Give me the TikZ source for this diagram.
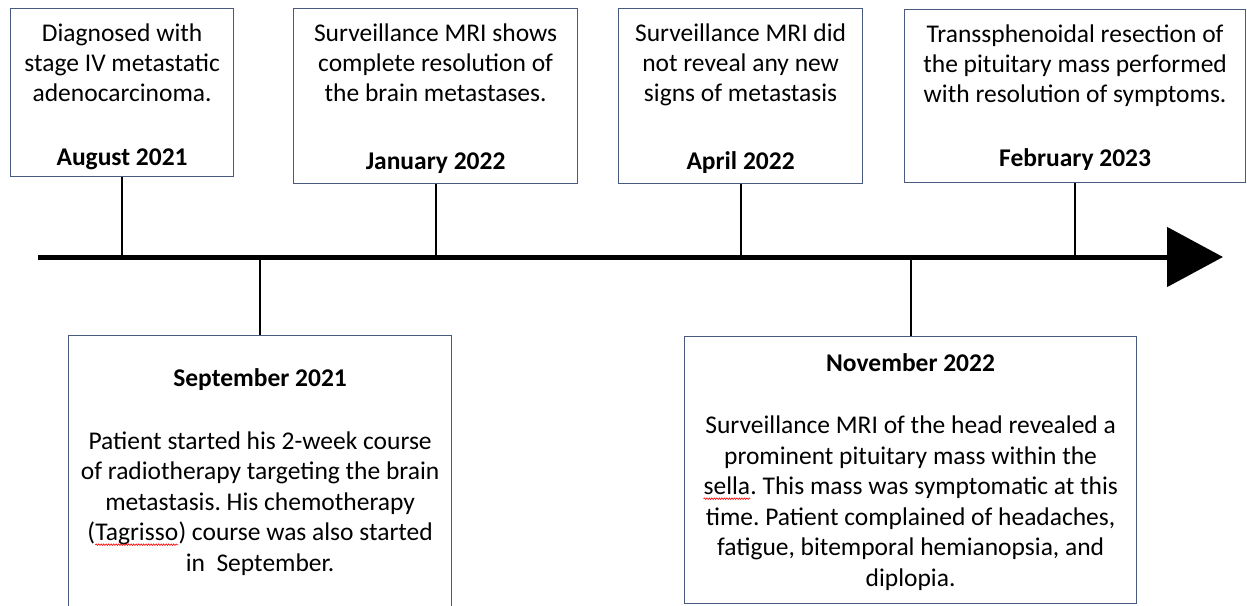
\documentclass[tikz,border=0pt]{standalone}
\usepackage{fontspec}
\setmainfont{Carlito}
\usetikzlibrary{arrows.meta,decorations.pathmorphing}
\definecolor{boxblue}{RGB}{72,90,125}
\newcommand\redwave[1]{\tikz[baseline=(w.base)]{\node[inner sep=0pt,outer sep=0pt] (w) {#1};
  \draw[red, line width=0.6pt, decorate, decoration={snake, segment length=2.5pt, amplitude=0.8pt}]
    ([yshift=-4pt]w.base west) -- ([yshift=-4pt]w.base east);}}
\frenchspacing
\begin{document}
\begin{tikzpicture}[x=1pt,y=-1pt,
  box/.style={draw=boxblue, line width=1.2pt, rectangle, inner sep=0pt, anchor=north west},
  txt/.style={align=center, inner sep=0pt, anchor=north, text=black, font=\fontsize{25.5}{30}\selectfont},
  txtb/.style={txt, font=\fontsize{25.5}{30.5}\selectfont},
  stem/.style={draw=black, line width=2pt},
  axis/.style={draw=black, line width=5pt, -{Triangle[length=56pt,width=59pt]}}]
\useasboundingbox (0,0) rectangle (1247,605);
% timeline ends
\coordinate (a0) at (38,257);
\coordinate (a1) at (1223,257);
% boxes
\node[box, minimum width=223pt, minimum height=168pt] (b1) at (10,8) {};
\node[box, minimum width=284pt, minimum height=175pt] (b2) at (293,8) {};
\node[box, minimum width=244pt, minimum height=175pt] (b3) at (618,8) {};
\node[box, minimum width=341pt, minimum height=173pt] (b4) at (904,9) {};
\node[box, minimum width=383pt, minimum height=280pt] (b5) at (68,335) {};
\node[box, minimum width=452pt, minimum height=267pt] (b6) at (684,336) {};
% texts
\node[txt] (t1) at ([yshift=-13pt]b1.north) {\rule{0pt}{20.5pt}Diagnosed with\\stage IV metastatic\\adenocarcinoma.\\[34pt]\textbf{August 2021}};
\node[txt] (t2) at ([yshift=-12.5pt]b2.north) {\rule{0pt}{20.5pt}Surveillance MRI shows\\complete resolution of\\the brain metastases.\\[38pt]\textbf{January 2022}};
\node[txt] (t3) at ([yshift=-12.5pt]b3.north) {\rule{0pt}{20.5pt}Surveillance MRI did\\not reveal any new\\signs of metastasis\\[38pt]\textbf{April 2022}};
\node[txt] (t4) at ([yshift=-12.5pt]b4.north) {\rule{0pt}{20.5pt}Transsphenoidal resection of\\the pituitary mass performed\\with resolution of symptoms.\\[34pt]\textbf{February 2023}};
\node[txtb] (t5) at ([yshift=-31pt]b5.north) {\rule{0pt}{20.5pt}\textbf{September 2021}\\[32pt]Patient started his 2-week course\\of radiotherapy targeting the brain\\metastasis. His chemotherapy\\(\redwave{Tagrisso}) course was also started\\in~ September.};
\node[txtb] (t6) at ([yshift=-15pt]b6.north) {\rule{0pt}{20.5pt}\textbf{November 2022}\\[31.5pt]Surveillance MRI of the head revealed a\\prominent pituitary mass within the\\\redwave{sella}. This mass was symptomatic at this\\time. Patient complained of headaches,\\fatigue, bitemporal hemianopsia, and\\diplopia.};
% stems
\draw[stem] (b1.south) -- (b1.south |- a0);
\draw[stem] (b2.south) -- (b2.south |- a0);
\draw[stem] (b3.south) -- (b3.south |- a0);
\draw[stem] (b4.south) -- (b4.south |- a0);
\draw[stem] (b5.north) -- (b5.north |- a0);
\draw[stem] (b6.north) -- (b6.north |- a0);
% timeline
\draw[axis] (a0) -- (a1);
\end{tikzpicture}
\end{document}
